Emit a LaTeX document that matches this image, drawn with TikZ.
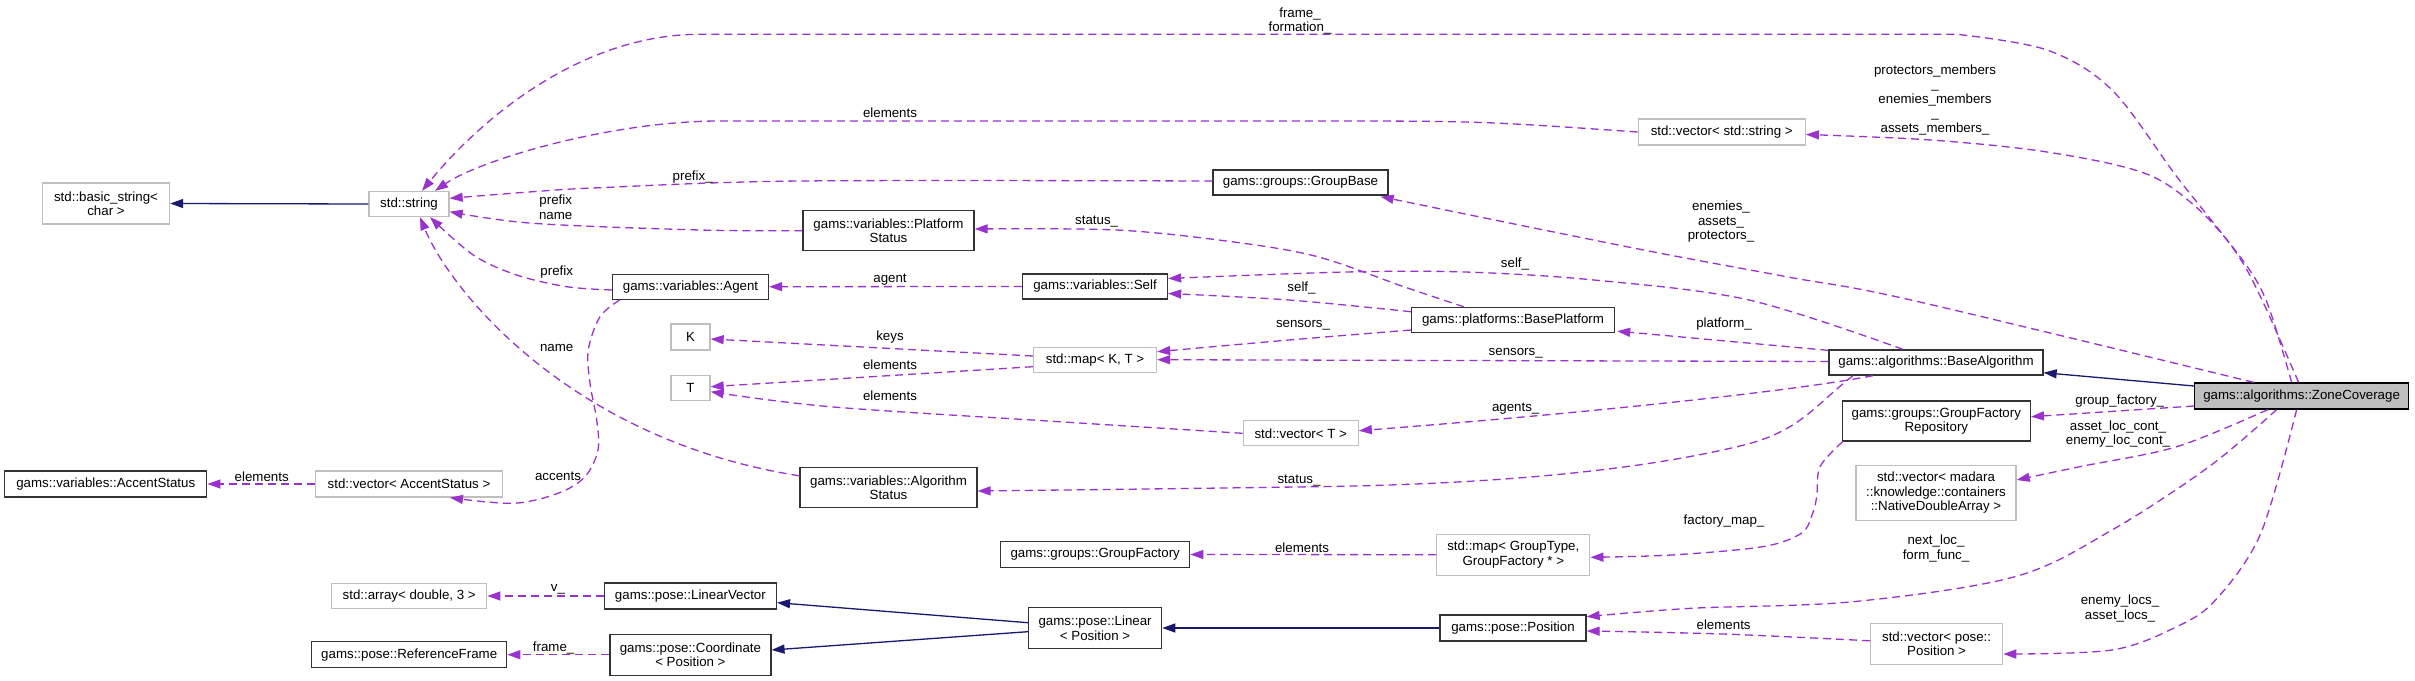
\documentclass[tikz,border=0pt]{standalone}
\usepackage{fontspec}
\setmainfont{Liberation Sans}
\usetikzlibrary{arrows.meta,calc}
\definecolor{usecol}{RGB}{154,50,205}
\definecolor{inhcol}{RGB}{25,25,112}
\definecolor{extcol}{RGB}{191,191,191}
\definecolor{curfill}{RGB}{191,191,191}
\begin{document}
\begin{tikzpicture}[x=1bp,y=-1bp,
  every node/.style={font=\fontsize{13.3bp}{14.5bp}\selectfont, align=center},
  cls/.style={draw=black!80, line width=1.3bp, fill=white, inner sep=2bp},
  ext/.style={draw=extcol, line width=1.3bp, fill=white, inner sep=2bp},
  cur/.style={draw=black, line width=1.3bp, fill=curfill, inner sep=2bp},
  box/.style 2 args={minimum width=#1bp, minimum height=#2bp},
  lbl/.style={inner sep=0pt},
  use/.style={draw=usecol, line width=1.3bp, dash pattern=on 8bp off 5bp, -{Triangle[length=13bp,width=9bp,fill=usecol]}},
  inh/.style={draw=inhcol, line width=1.3bp, -{Triangle[length=13bp,width=9bp,fill=inhcol]}},
  sm/.style={smooth, tension=0.55}
]
\fill[white] (0,0) rectangle (2415,681);
\path[use as bounding box] (0,0) rectangle (2415,681);

% nodes
\node[ext, box={127}{41}] (bs) at (106,203.5) {std::basic\_string<\\char >};
\node[ext, box={80}{25}] (str) at (409,204) {std::string};
\node[cls, box={156}{25}] (agent) at (690.5,286.7) {gams::variables::Agent};
\node[ext, box={39}{26}] (K) at (690.5,337) {K};
\node[ext, box={39}{25}] (T) at (690.5,388) {T};
\node[cls, box={171}{40}] (pstat) at (888.5,230.7) {gams::variables::Platform\\Status};
\node[cls, box={175}{25}] (gbase) at (1300.5,182.5) {gams::groups::GroupBase};
\node[cls, box={145}{25}] (self) at (1095,286.5) {gams::variables::Self};
\node[ext, box={123}{25}] (mapkt) at (1095,359.7) {std::map< K, T >};
\node[ext, box={115}{25}] (vect) at (1300.7,433.3) {std::vector< T >};
\node[cls, box={203}{25}] (bplat) at (1513,320) {gams::platforms::BasePlatform};
\node[cls, box={214}{25}] (balg) at (1936,362.5) {gams::algorithms::BaseAlgorithm};
\node[cur, box={214}{26}] (zc) at (2301.6,396) {gams::algorithms::ZoneCoverage};
\node[cls, box={188}{40}] (gfr) at (1936.3,421) {gams::groups::GroupFactory\\Repository};
\node[ext, box={160}{55}] (vmad) at (1936,493) {std::vector< madara\\::knowledge::containers\\::NativeDoubleArray >};
\node[ext, box={153}{41}] (mapgt) at (1513.3,554.7) {std::map< GroupType,\\GroupFactory * >};
\node[cls, box={146}{26}] (pos) at (1513,628) {gams::pose::Position};
\node[ext, box={132}{41}] (vpos) at (1936.6,643.8) {std::vector< pose::\\Position >};
\node[ext, box={167}{26}] (vstr) at (1721.7,132) {std::vector< std::string >};
\node[cls, box={202}{26}] (accst) at (105.8,484) {gams::variables::AccentStatus};
\node[ext, box={187}{26}] (vacc) at (409,484) {std::vector< AccentStatus >};
\node[ext, box={155}{25}] (arr) at (409.2,596) {std::array< double, 3 >};
\node[cls, box={195}{26}] (rf) at (409.2,654.7) {gams::pose::ReferenceFrame};
\node[cls, box={177}{40}] (astat) at (888.5,487.8) {gams::variables::Algorithm\\Status};
\node[cls, box={189}{26}] (gf) at (1095.2,554.5) {gams::groups::GroupFactory};
\node[cls, box={172}{26}] (lv) at (690.4,596) {gams::pose::LinearVector};
\node[cls, box={161}{41}] (coord) at (690.4,654.7) {gams::pose::Coordinate\\< Position >};
\node[cls, box={133}{41}] (lin) at (1095.1,628) {gams::pose::Linear\\< Position >};

% inheritance
\draw[inh] (str.west) -- (bs.east);
\draw[inh] ($(lin.west)+(0,-5.3)$) -- ($(lv.east)+(0,6.7)$);
\draw[inh] ($(lin.west)+(0,3.7)$) -- ($(coord.east)+(0,-4.7)$);
\draw[inh] (pos.west) -- (lin.east);
\draw[inh] ($(zc.west)+(0,-10)$) -- ($(balg.east)+(0,10.2)$);

% usage
\draw[use] plot[sm] coordinates {($(zc.north)+(-3,0)$) (2262,300) (2235,251) (2177,177) (2112,90) (2047,50) (1957,34.3)} -- (700,34.3) .. controls (580,34.3) and (480,120) .. ($(str.north)+(13,0)$);
\draw[use] (vstr.west) .. controls (1480,121) .. (1300,121) -- (720,121) .. controls (610,121) and (480,160) .. ($(str.north)+(26,0)$);
\draw[use] plot[sm] coordinates {($(zc.north)+(-10,0)$) (2266,300) (2238,254) (2196,207) (2144,173) (2047,152) (1931,140) ($(vstr.east)+(0,2.5)$)};
\draw[use] plot[sm] coordinates {($(zc.north)+(-48,0)$) (1911,300) (1788,277) (1659,253) (1529,227) ($(gbase.south east)+(-8,1)$)};
\draw[use] plot[sm] coordinates {($(balg.north)+(-33,0)$) (1749,300) (1594,280) (1465,272) (1346,272) ($(self.east)+(0,-8)$)};
\draw[use] plot[sm] coordinates {($(bplat.west)+(0,-8.3)$) (1289,300) ($(self.east)+(0,7)$)};
\draw[use] plot[sm] coordinates {($(bplat.north)+(-49,0)$) (1403.7,286.7) (1317.6,256.7) (1231.5,241.7) (1116.6,230) ($(pstat.east)+(0,-1.7)$)};
\draw[use] plot[sm] coordinates {($(bplat.west)+(0,10)$) (1289,340) ($(mapkt.east)+(0,-8)$)};
\draw[use] ($(balg.north west)+(0,1)$) -- ($(bplat.south east)+(2,-2)$);
\draw[use] ($(balg.west)+(0,-1)$) -- (mapkt.east);
\draw[use] ($(balg.south)+(-63,0)$) .. controls (1800,390) and (1600,412) .. ($(vect.east)+(0,-2.6)$);
\draw[use] ($(balg.south)+(-83,0)$) .. controls (1815,405) and (1800,432) .. (1740,446) .. controls (1640,470) and (1500,484) .. (1318,486.7) .. controls (1150,489) .. ($(astat.east)+(0,3.2)$);
\draw[use] (self.west) -- (agent.east);
\draw[use] ($(mapkt.west)+(0,-3.7)$) -- ($(K.east)+(0,2)$);
\draw[use] ($(mapkt.west)+(0,7)$) -- ($(T.east)+(0,-1.3)$);
\draw[use] plot[sm] coordinates {(vect.west) (1059,421.7) (830,406.7) ($(T.east)+(0,3.7)$)};
\draw[use] plot[sm] coordinates {(pstat.west) (700,230) (533,223.3) ($(str.east)+(0,7.7)$)};
\draw[use] plot[sm] coordinates {($(gbase.west)+(0,-1.5)$) (800,181) (600,187.7) (533,191.7) ($(str.east)+(0,-5.7)$)};
\draw[use] plot[sm] coordinates {($(agent.west)+(0,3.3)$) (566.7,286.7) (516.7,275) (473.3,255) ($(str.south)+(21,0)$)};
\draw[use] ($(astat.west)+(0,-12)$) .. controls (570,440) and (450,290) .. ($(str.south)+(11,0)$);
\draw[use] plot[sm] coordinates {($(agent.south west)+(8,0)$) (600,316.7) (588.3,350) (590,383.3) (596.7,420) (598,450) (585,476.7) (558,493.3) (513,503.3) ($(vacc.south)+(41,0)$)};
\draw[use] (vacc.west) -- (accst.east);
\draw[use] (lv.west) -- (arr.east);
\draw[use] (coord.west) -- (rf.east);
\draw[use] (mapgt.west) -- (gf.east);
\draw[use] plot[sm] coordinates {($(gfr.south west)+(1,0)$) (1820,466.7) (1816.7,496.7) (1812,515) (1801.3,533.3) (1762.5,546.7) (1671.8,555) ($(mapgt.east)+(0,2.6)$)};
\draw[use] ($(zc.west)+(0,10)$) -- ($(gfr.east)+(0,-4.3)$);
\draw[use] plot[sm] coordinates {($(zc.south)+(-34,0)$) (2176.7,446.7) (2079.6,466.7) ($(vmad.east)+(0,-13)$)};
\draw[use] plot[sm] coordinates {($(zc.south)+(-25,0)$) (2209,466.7) (2112,530) (2015,576.7) (1853,601.7) (1691,608.3) ($(pos.east)+(0,-11.3)$)};
\draw[use] plot[sm] coordinates {($(zc.south)+(-5,0)$) (2260.8,533.3) (2215.5,600) (2176.7,626.7) (2112,650) ($(vpos.east)+(0,10.2)$)};
\draw[use] plot[sm] coordinates {($(vpos.west)+(0,-3)$) (1723,634) ($(pos.east)+(0,3)$)};

% labels
\node[lbl] (l2) at (1300,21) {frame\_\\formation\_};
\node[lbl] (l3) at (890,113) {elements};
\node[lbl] (l4) at (1935,100) {protectors\_members\\\_\\enemies\_members\\\_\\assets\_members\_};
\node[lbl] (l5) at (1721,222) {enemies\_\\assets\_\\protectors\_};
\node[lbl] (l6) at (1515,264) {self\_};
\node[lbl] (l7) at (1301.5,288.5) {self\_};
\node[lbl] (l8) at (1096.6,222) {status\_};
\node[lbl] (l9) at (1303,325) {sensors\_};
\node[lbl] (l10) at (1724,324.5) {platform\_};
\node[lbl] (l11) at (1515.7,353) {sensors\_};
\node[lbl] (l12) at (1515.7,409) {agents\_};
\node[lbl] (l13) at (1299,480.5) {status\_};
\node[lbl] (l14) at (890,279.5) {agent};
\node[lbl] (l15) at (890,337) {keys};
\node[lbl] (l16) at (890,364.5) {elements};
\node[lbl] (l17) at (890,396) {elements};
\node[lbl] (l18) at (555.7,207) {prefix\\name};
\node[lbl] (l19) at (692.7,177) {prefix\_};
\node[lbl] (l20) at (556.7,272) {prefix};
\node[lbl] (l21) at (556.7,348) {name};
\node[lbl] (l22) at (558,476) {accents};
\node[lbl] (l23) at (261.7,477) {elements};
\node[lbl] (l24) at (558,589.5) {v\_};
\node[lbl] (l25) at (553.6,648.5) {frame\_};
\node[lbl] (l30) at (1302,548) {elements};
\node[lbl] (l31) at (1724,521) {factory\_map\_};
\node[lbl] (l32) at (2119.7,401) {group\_factory\_};
\node[lbl] (l33) at (2118,434) {asset\_loc\_cont\_\\enemy\_loc\_cont\_};
\node[lbl] (l34) at (1936,548.5) {next\_loc\_\\form\_func\_};
\node[lbl] (l35) at (2120,608.5) {enemy\_locs\_\\asset\_locs\_};
\node[lbl] (l36) at (1723.6,624.5) {elements};
\end{tikzpicture}
\end{document}
